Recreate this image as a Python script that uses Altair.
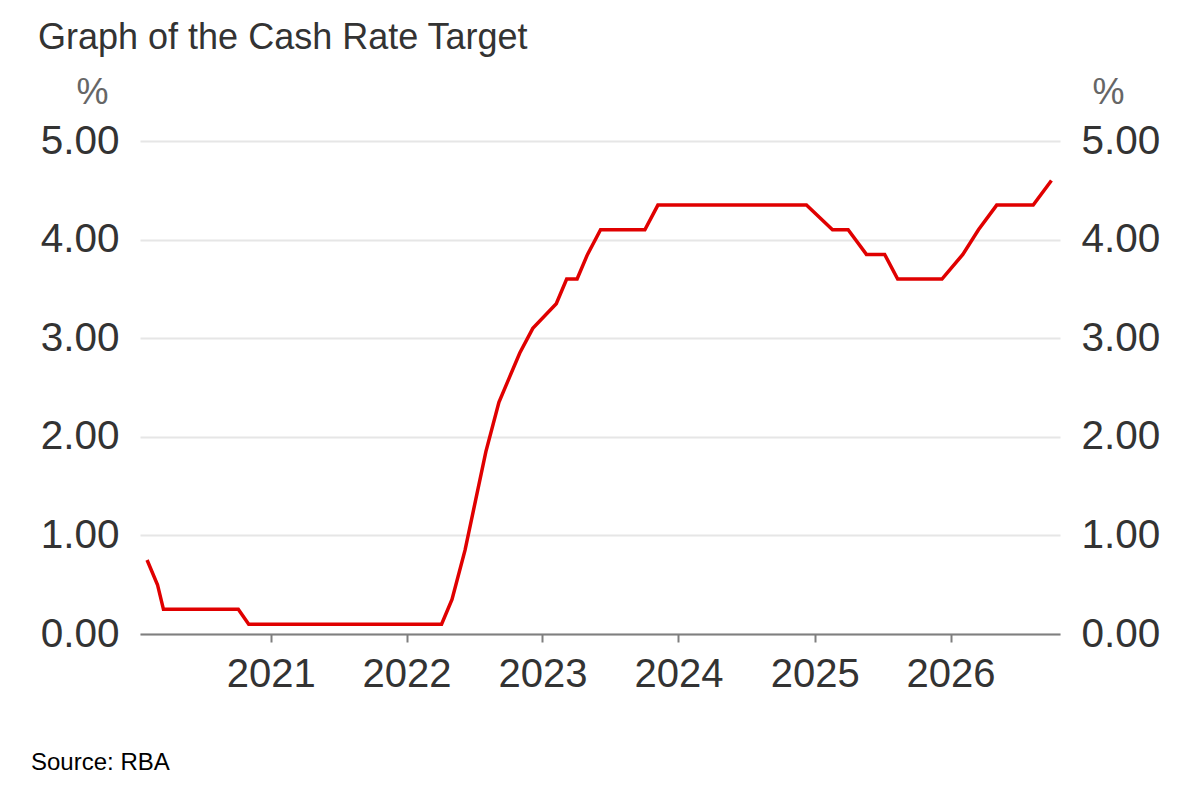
import altair as alt
import pandas as pd

# RBA board meeting dates and the cash rate target set at each (%)
meeting_dates = [
    "2020-02-04", "2020-03-03", "2020-03-19", "2020-04-07", "2020-05-05", "2020-06-02",
    "2020-07-07", "2020-08-04", "2020-09-01", "2020-10-06", "2020-11-03", "2020-12-01",
    "2021-02-02", "2021-03-02", "2021-04-06", "2021-05-04", "2021-06-01", "2021-07-06",
    "2021-08-03", "2021-09-07", "2021-10-05", "2021-11-02", "2021-12-07",
    "2022-02-01", "2022-03-01", "2022-04-05", "2022-05-03", "2022-06-07", "2022-07-05",
    "2022-08-02", "2022-09-06", "2022-10-04", "2022-11-01", "2022-12-06",
    "2023-02-07", "2023-03-07", "2023-04-04", "2023-05-02", "2023-06-06", "2023-07-04",
    "2023-08-01", "2023-09-05", "2023-10-03", "2023-11-07", "2023-12-05",
    "2024-02-06", "2024-03-19", "2024-05-07", "2024-06-18", "2024-08-06", "2024-09-24",
    "2024-11-05", "2024-12-10",
    "2025-02-18", "2025-04-01", "2025-05-20", "2025-07-08", "2025-08-12", "2025-09-30",
    "2025-11-04", "2025-12-09",
    "2026-02-03", "2026-03-17", "2026-05-05", "2026-06-16", "2026-08-11", "2026-09-29",
]
cash_rate = [
    0.75, 0.50, 0.25, 0.25, 0.25, 0.25,
    0.25, 0.25, 0.25, 0.25, 0.10, 0.10,
    0.10, 0.10, 0.10, 0.10, 0.10, 0.10,
    0.10, 0.10, 0.10, 0.10, 0.10,
    0.10, 0.10, 0.10, 0.35, 0.85, 1.35,
    1.85, 2.35, 2.60, 2.85, 3.10,
    3.35, 3.60, 3.60, 3.85, 4.10, 4.10,
    4.10, 4.10, 4.10, 4.35, 4.35,
    4.35, 4.35, 4.35, 4.35, 4.35, 4.35,
    4.35, 4.35,
    4.10, 4.10, 3.85, 3.85, 3.60, 3.60,
    3.60, 3.60,
    3.85, 4.10, 4.35, 4.35, 4.35, 4.60,
]
y_ticks = [0, 1, 2, 3, 4, 5]
x_range = ["2020-01-16", "2026-10-22"]

df = pd.DataFrame({"date": pd.to_datetime(meeting_dates), "rate": cash_rate})

FONT = "Liberation Sans"
LABEL = "#333333"

x = alt.X(
    "date:T",
    title=None,
    scale=alt.Scale(domain=x_range),
    axis=alt.Axis(
        format="%Y", tickCount="year", grid=False,
        domainColor="#7f7f7f", domainWidth=2,
        tickColor="#7f7f7f", tickWidth=2, tickSize=8,
        labelFontSize=40, labelColor=LABEL, labelFont=FONT, labelPadding=12,
    ),
)

def y_axis(orient, title_x, grid):
    return alt.Axis(
        orient=orient, values=y_ticks, format=".2f",
        grid=grid, gridColor="#e6e6e6", gridWidth=2,
        domain=False, ticks=False,
        labelFontSize=40.5, labelColor=LABEL, labelFont=FONT, labelPadding=21,
        title="%", titleAngle=0, titleAlign="center", titleBaseline="alphabetic",
        titleX=title_x, titleY=-38, titleFontSize=36, titleFontWeight="normal",
        titleColor="#666666", titleFont=FONT,
    )

base = alt.Chart(df)

left = base.mark_line(color="#e00000", strokeWidth=3.5).encode(
    x=x,
    y=alt.Y("rate:Q", scale=alt.Scale(domain=[0, 5]), axis=y_axis("left", -48, True)),
)

right = base.mark_line(opacity=0).encode(
    x=x,
    y=alt.Y("rate:Q", scale=alt.Scale(domain=[0, 5]), axis=y_axis("right", 48, False)),
)

source = alt.Chart(pd.DataFrame({"t": ["Source: RBA"]})).mark_text(
    align="left", baseline="alphabetic", font=FONT, fontSize=24, color="#000000"
).encode(x=alt.value(-109), y=alt.value(629), text="t:N")

chart = alt.layer(left, right, source).resolve_scale(y="independent").properties(
    width=920,
    height=493,
    autosize=alt.AutoSizeParams(type="none"),
    padding={"left": 132, "top": 133, "right": 132, "bottom": 158},
    title=alt.TitleParams(
        "Graph of the Cash Rate Target", anchor="start", frame="group",
        dx=-102, offset=17, font=FONT, fontSize=36, fontWeight="normal", color=LABEL,
    ),
).configure_view(stroke=None)

chart.save("out.html", embed_options={"renderer": "svg", "actions": False})
